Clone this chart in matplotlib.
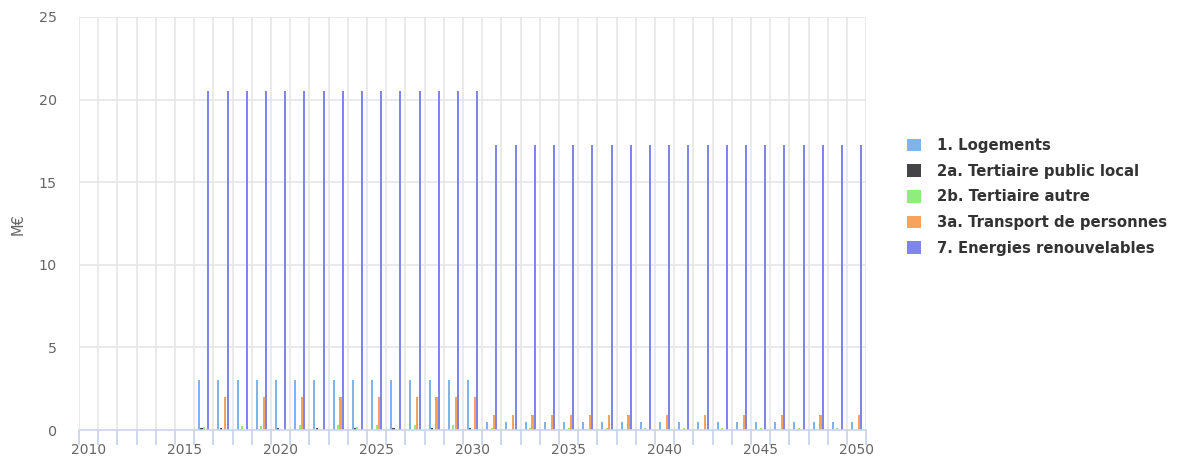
import numpy as np
import matplotlib
matplotlib.use("Agg")
import matplotlib.pyplot as plt
from matplotlib.patches import Patch

years = list(range(2010, 2051))

logements = [0]*6 + [3.05]*15 + [0.48]*20
tertiaire_public = [0, 0, 0, 0, 0, 0,
                    0.15, 0.15, 0, 0, 0.15, 0, 0.15, 0, 0.15, 0, 0.15, 0, 0.15, 0, 0.15] + [0]*20
tertiaire_autre = [0, 0, 0, 0, 0, 0,
                   0.2, 0, 0.25, 0.25, 0, 0.3, 0, 0.3, 0.2, 0.3, 0, 0.3, 0, 0.3, 0] + \
                  [0.12, 0, 0.12, 0, 0.12, 0, 0.12, 0, 0.12, 0, 0.12, 0, 0.12, 0, 0.12, 0, 0.12, 0, 0.12, 0]
transport = [0, 0, 0, 0, 0, 0,
             0, 2.0, 0, 2.0, 0, 2.0, 0, 2.0, 0, 2.0, 0, 2.0, 2.0, 2.0, 2.0] + \
            [0.9]*8 + [0, 0.9, 0, 0.9, 0, 0.9, 0, 0.9, 0, 0.9, 0, 0.9]
energies = [0]*6 + [20.55]*15 + [17.25]*20

series = [
    ("1. Logements", logements, "#7cb5ec"),
    ("2a. Tertiaire public local", tertiaire_public, "#434348"),
    ("2b. Tertiaire autre", tertiaire_autre, "#90ed7d"),
    ("3a. Transport de personnes", transport, "#f7a35c"),
    ("7. Energies renouvelables", energies, "#8085e9"),
]

W, H = 1189, 461
fig = plt.figure(figsize=(W/100, H/100), dpi=100)
ax = fig.add_axes([79/W, 1-430/H, (866.2-79)/W, (430-17)/H])

n = len(years)
x = np.arange(n)
slot = 0.6 / len(series)
for i, (name, vals, col) in enumerate(series):
    off = -0.3 + slot*(i+0.5)
    ax.bar(x + off, vals, width=slot*0.9, color=col, linewidth=0, zorder=3)

ax.set_xlim(-0.5, n-0.5)
ax.set_ylim(0, 25)
ax.set_yticks([0, 5, 10, 15, 20, 25])
ax.set_xticks(np.arange(-0.5, n, 1))
ax.set_xticklabels([])
lab_idx = [i for i, y in enumerate(years) if y % 5 == 0]
ax.set_xticks(lab_idx, minor=True)
ax.set_xticklabels([str(years[i]) for i in lab_idx], minor=True)
ax.tick_params(axis='x', which='major', length=11, color='#ccd6eb', width=1.3)
ax.tick_params(axis='x', which='minor', length=0, pad=9, labelsize=10, labelcolor='#666666')
ax.tick_params(axis='y', length=0, pad=16, labelsize=10.3, labelcolor='#666666')
ax.grid(axis='x', which='major', color='#e6e6e6', linewidth=1.2, zorder=0)
ax.grid(axis='y', color='#e6e6e6', linewidth=1.2, zorder=0)
ax.set_axisbelow(True)
for s in ['top', 'right', 'left']:
    ax.spines[s].set_visible(False)
ax.spines['bottom'].set_color('#ccd6eb')
ax.spines['bottom'].set_linewidth(1.2)
ax.spines['bottom'].set_zorder(4)

fig.text(18/W, 1-224/H, "M€", rotation=90, ha='center', va='center', fontsize=10.5, color='#666666')

handles = [Patch(facecolor=c, edgecolor='none') for _, _, c in series]
labels = [s[0] for s in series]
leg = fig.legend(handles, labels, loc='upper left', bbox_to_anchor=(907/W, 1-138/H),
                 frameon=False, borderpad=0, borderaxespad=0,
                 handlelength=0.92, handleheight=0.92, handletextpad=1.1,
                 labelspacing=0.72, prop={'weight': 'bold', 'size': 10.7})
for t in leg.get_texts():
    t.set_color('#333333')

fig.savefig("out.png", dpi=100)
